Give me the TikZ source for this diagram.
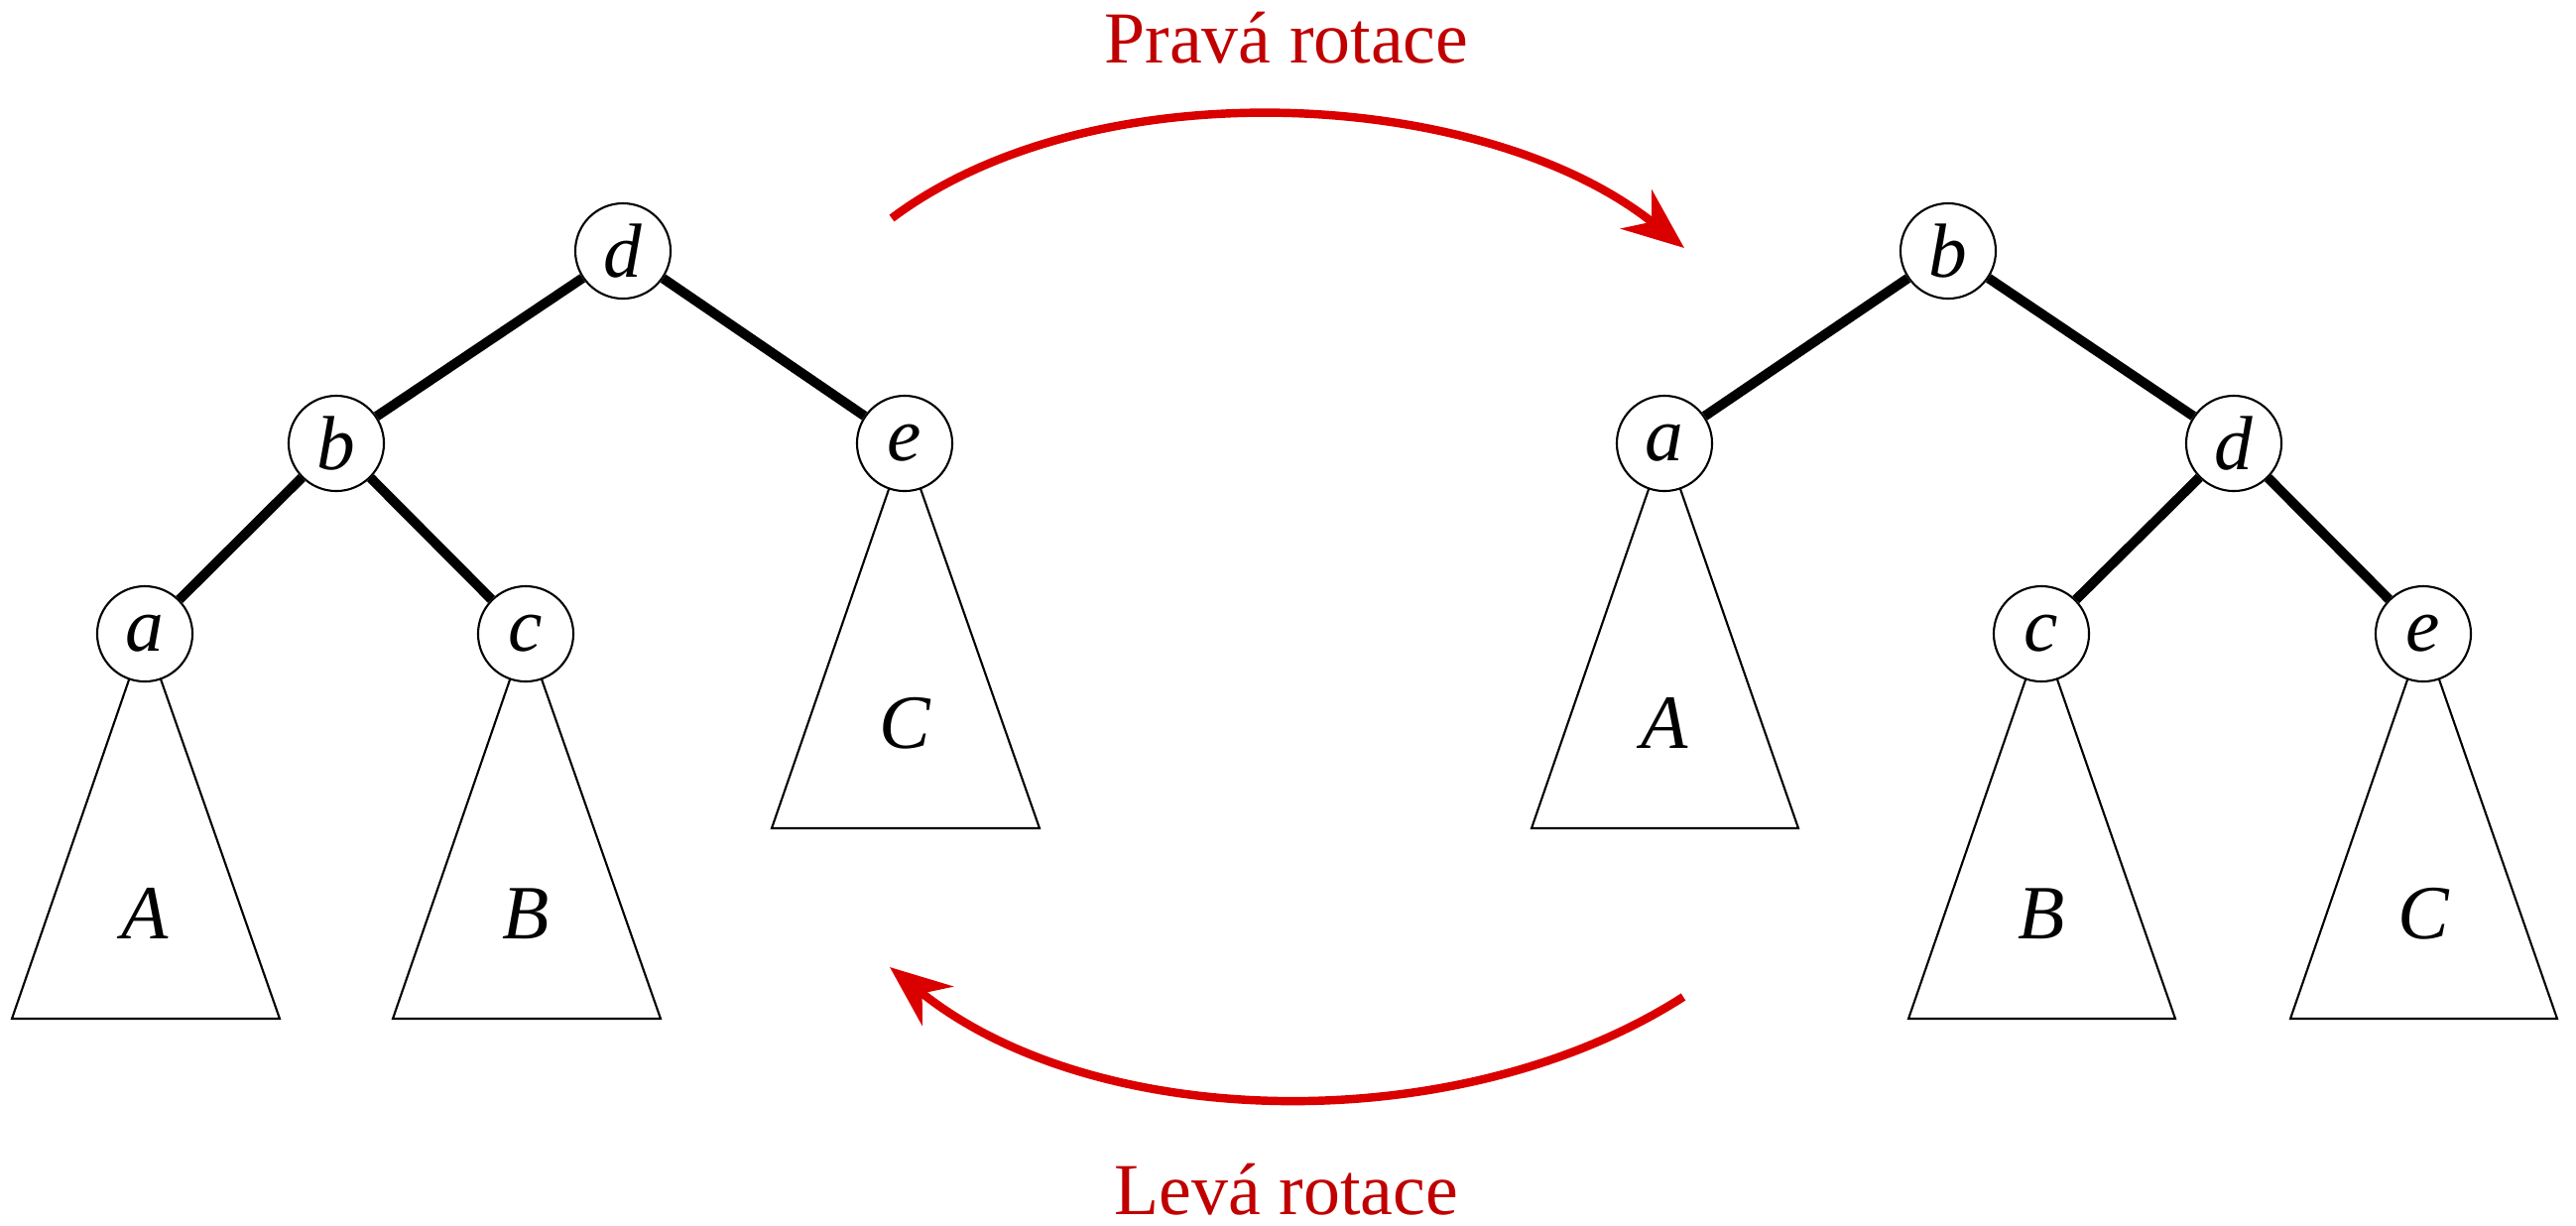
\documentclass[tikz,border=0pt]{standalone}
\usepackage{fontspec}
\setmainfont{Liberation Serif}
\usetikzlibrary{arrows.meta}
\pgfdeclarelayer{bg}
\pgfsetlayers{bg,main}
\definecolor{txtred}{RGB}{192,0,0}
\definecolor{arrred}{RGB}{218,0,0}
\begin{document}
\begin{tikzpicture}[x=0.01cm,y=-0.01cm,
  tnode/.style={circle, draw, line width=0.6pt, fill=white, minimum size=0.96cm, inner sep=0pt, font=\fontsize{22}{26}\selectfont\itshape},
  edge/.style={line width=2.8pt},
  subtree/.style={draw, line width=0.6pt, line join=miter},
  sublabel/.style={font=\fontsize{22}{26}\selectfont\itshape},
  rot/.style={draw=arrred, line width=2.4pt, -{Stealth[length=0.62cm,width=0.5cm,inset=0.2cm]}},
  rotlabel/.style={text=txtred, font=\fontsize{21}{25}\selectfont, anchor=base, inner sep=0pt}]
\useasboundingbox (0,0) rectangle (2597,1235);

% left tree
\node[tnode] (Ld) at (628,253) {d};
\node[tnode] (Lb) at (339,447) {b};
\node[tnode] (Le) at (912,447) {e};
\node[tnode] (La) at (146,639) {a};
\node[tnode] (Lc) at (530,639) {c};
\draw[edge] (Ld) -- (Lb);
\draw[edge] (Ld) -- (Le);
\draw[edge] (Lb) -- (La);
\draw[edge] (Lb) -- (Lc);
\begin{pgfonlayer}{bg}
  \draw[subtree] (La.center) -- (12,1027) -- (282,1027) -- cycle;
  \draw[subtree] (Lc.center) -- (396,1027) -- (666,1027) -- cycle;
  \draw[subtree] (Le.center) -- (778,835) -- (1048,835) -- cycle;
\end{pgfonlayer}
\node[sublabel] (LA) at (146,921) {A};
\node[sublabel] (LB) at (530,921) {B};
\node[sublabel] (LC) at (912,729) {C};

% right tree
\node[tnode] (Rb) at (1964,253) {b};
\node[tnode] (Ra) at (1678,447) {a};
\node[tnode] (Rd) at (2252,447) {d};
\node[tnode] (Rc) at (2058,639) {c};
\node[tnode] (Re) at (2443,639) {e};
\draw[edge] (Rb) -- (Ra);
\draw[edge] (Rb) -- (Rd);
\draw[edge] (Rd) -- (Rc);
\draw[edge] (Rd) -- (Re);
\begin{pgfonlayer}{bg}
  \draw[subtree] (Ra.center) -- (1544,835) -- (1813,835) -- cycle;
  \draw[subtree] (Rc.center) -- (1924,1027) -- (2193,1027) -- cycle;
  \draw[subtree] (Re.center) -- (2309,1027) -- (2578,1027) -- cycle;
\end{pgfonlayer}
\node[sublabel] (RA) at (1678,729) {A};
\node[sublabel] (RB) at (2058,921) {B};
\node[sublabel] (RC) at (2443,921) {C};

% rotation arrows
\coordinate (t1) at (899,220);
\coordinate (t2) at (1698,250);
\coordinate (b1) at (1697,1005);
\coordinate (b2) at (897,975);
\draw[rot] (t1) .. controls (1104,66) and (1498,89) .. (t2);
\draw[rot] (b1) .. controls (1473,1149) and (1105,1143) .. (b2);
\node[rotlabel] (lr) at (1297,63) {Pravá rotace};
\node[rotlabel] (ll) at (1297,1224) {Levá rotace};
\end{tikzpicture}
\end{document}
